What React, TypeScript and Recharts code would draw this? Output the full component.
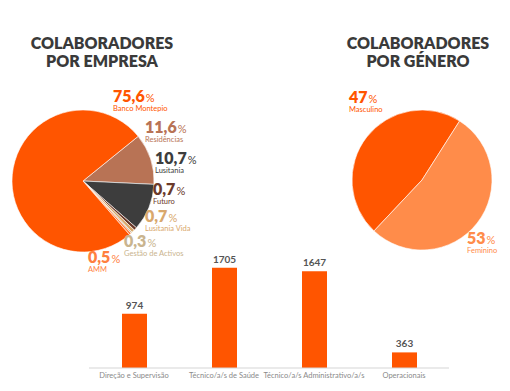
import React from 'react';
import { PieChart, Pie, Cell, BarChart, Bar, XAxis, YAxis, LabelList } from 'recharts';

// company split (%), starting at Residências and going clockwise
const empresaNames = ['Residências', 'Lusitania', 'Futuro', 'Lusitania Vida', 'Gestão de Activos', 'AMM', 'Banco Montepio'];
const empresaValues = [11.6, 10.7, 0.7, 0.7, 0.3, 0.5, 75.6];
const empresaColors = ['#B87355', '#3D3D3D', '#6B3A2A', '#D9A86C', '#C9B48E', '#FF7F3F', '#FF5500'];

const generoNames = ['Masculino', 'Feminino'];
const generoValues = [47, 53];
const generoColors = ['#FF5500', '#FF8C4A'];

const funcaoNames = ['Direção e Supervisão', 'Técnico/a/s de Saúde', 'Técnico/a/s Administrativo/a/s', 'Operacionais'];
const funcaoValues = [974, 1705, 1647, 363];

const FONT = 'Lato, "Open Sans", sans-serif';

const empresaData = empresaNames.map((name, i) => ({ name, value: empresaValues[i] }));
const generoData = generoNames.map((name, i) => ({ name, value: generoValues[i] }));
const funcaoData = funcaoNames.map((name, i) => ({ name, value: funcaoValues[i] }));

// where each pie label sits (left, top of the big number)
const empresaLabelPos: Record<string, [number, number]> = {
  'Banco Montepio': [113, 88],
  'Residências': [145, 119],
  'Lusitania': [155, 150],
  'Futuro': [153, 181],
  'Lusitania Vida': [145, 208],
  'Gestão de Activos': [124, 233],
  'AMM': [88, 249],
};
const generoLabelPos: Record<string, [number, number]> = {
  'Masculino': [349, 89],
  'Feminino': [467, 230],
};

const fmt = (v: number) => String(v).replace('.', ',');

const PctLabel = ({ x, y, value, name, color }: { x: number; y: number; value: number; name: string; color: string }) => (
  <div style={{ position: 'absolute', left: x, top: y, color, fontFamily: FONT, lineHeight: 1, whiteSpace: 'nowrap' }}>
    <div>
      <span style={{ fontSize: 16, fontWeight: 800 }}>{fmt(value)}</span>
      <span style={{ fontSize: 11, fontWeight: 400, marginLeft: 1 }}>%</span>
    </div>
    <div style={{ fontSize: 7.5, marginTop: 1 }}>{name}</div>
  </div>
);

const Title = ({ x, lines }: { x: number; lines: string[] }) => (
  <div style={{ position: 'absolute', left: x - 100, top: 34, width: 200, textAlign: 'center', fontFamily: FONT, fontWeight: 800, fontSize: 16, lineHeight: '18px', color: '#3A3A3A' }}>
    {lines.map((l) => <div key={l}>{l}</div>)}
  </div>
);

export default function App() {
  return (
    <div style={{ position: 'absolute', left: 0, top: 0, width: 510, height: 391, background: '#fff', overflow: 'hidden' }}>
      <div style={{ position: 'absolute', left: 0, top: 0 }}>
        <PieChart width={510} height={391}>
          <Pie data={empresaData} dataKey="value" cx={78} cy={176} outerRadius={71} startAngle={39} endAngle={-321}
            stroke="#fff" strokeWidth={0.6} isAnimationActive={false}>
            {empresaData.map((d, i) => <Cell key={d.name} fill={empresaColors[i]} />)}
          </Pie>
          <Pie data={generoData} dataKey="value" cx={417} cy={175} outerRadius={70} startAngle={57.5} endAngle={417.5}
            stroke="#fff" strokeWidth={0.6} isAnimationActive={false}>
            {generoData.map((d, i) => <Cell key={d.name} fill={generoColors[i]} />)}
          </Pie>
        </PieChart>
      </div>
      <div style={{ position: 'absolute', left: 0, top: 0 }}>
        <BarChart width={510} height={391} data={funcaoData} margin={{ top: 249, right: 61, left: 89, bottom: 0 }}>
          <XAxis dataKey="name" height={23} tickLine={false} tickSize={4} tickMargin={1} interval={0}
            axisLine={{ stroke: '#D5D5D5' }} tick={{ fontSize: 7.5, fill: '#8A8A8A', fontFamily: FONT }} />
          <YAxis hide domain={[116, 2000]} allowDataOverflow />
          <Bar dataKey="value" fill="#FF5500" barSize={25} isAnimationActive={false}>
            <LabelList dataKey="value" position="top" offset={5} style={{ fontSize: 10, fontWeight: 700, fill: '#555', fontFamily: FONT }} />
          </Bar>
        </BarChart>
      </div>
      <Title x={102} lines={['COLABORADORES', 'POR EMPRESA']} />
      <Title x={418} lines={['COLABORADORES', 'POR GÉNERO']} />
      {empresaData.map((d, i) => (
        <PctLabel key={d.name} x={empresaLabelPos[d.name][0]} y={empresaLabelPos[d.name][1]} value={d.value} name={d.name} color={empresaColors[i]} />
      ))}
      {generoData.map((d, i) => (
        <PctLabel key={d.name} x={generoLabelPos[d.name][0]} y={generoLabelPos[d.name][1]} value={d.value} name={d.name} color={generoColors[i]} />
      ))}
    </div>
  );
}
